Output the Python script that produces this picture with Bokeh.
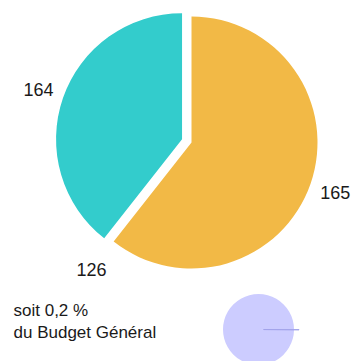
import math
from bokeh.plotting import figure
from bokeh.models import Range1d, ColumnDataSource
from bokeh.core.properties import value
from bokeh.embed import file_html
from bokeh.resources import INLINE

# ---- data ----
# main pie, slices in clockwise order starting at 12 o'clock
main_labels = ["165", "126", "164"]
main_shares = [60.6, 0.0, 39.4]
main_colors = ["#F2B946", "#F2B946", "#33CCCC"]
main_pulled = [False, True, True]

# small pie, starting at 3 o'clock
small_shares = [0.2, 99.8]
small_colors = ["#9EA0E8", "#CCCCFF"]
small_pulled = [True, False]

note_lines = ["soit 0,2 %", "du Budget Général"]

# ---- layout ----
W, H = 351, 361
FONT = "Liberation Sans"


def build(shares, colors, pulled, cx, cy, explode, start_deg, label_r=None):
    total = float(sum(shares))
    cum = start_deg
    wed = dict(x=[], y=[], s=[], e=[], c=[])
    lab = dict(x=[], y=[])
    for sh, col, pl in zip(shares, colors, pulled):
        a0 = cum
        a1 = cum + sh / total * 360.0
        cum = a1
        mid = math.radians((a0 + a1) / 2)
        off = explode if pl else 0.0
        ox = cx + off * math.sin(mid)
        oy = cy + off * math.cos(mid)
        if sh > 0:
            wed["x"].append(ox)
            wed["y"].append(oy)
            wed["s"].append(math.radians(90 - a0))
            wed["e"].append(math.radians(90 - a1))
            wed["c"].append(col)
        if label_r is not None:
            lab["x"].append(ox + label_r * math.sin(mid))
            lab["y"].append(oy + label_r * math.cos(mid))
    return wed, lab


p = figure(width=W, height=H, x_range=Range1d(0, W), y_range=Range1d(0, H),
           output_backend="svg", toolbar_location=None, min_border=0,
           x_axis_location=None, y_axis_location=None)
p.grid.visible = False
p.outline_line_color = None
p.background_fill_color = "white"
p.border_fill_color = "white"

# main pie
R_MAIN = 126
wed, lab = build(main_shares, main_colors, main_pulled,
                 cx=191, cy=219, explode=10, start_deg=0, label_r=152)
p.wedge(x="x", y="y", radius=R_MAIN, start_angle="s", end_angle="e",
        direction="clock", fill_color="c", line_color=None,
        source=ColumnDataSource(wed))
lab["t"] = main_labels
p.text(x="x", y="y", text="t", source=ColumnDataSource(lab),
       text_font=value(FONT), text_font_size="18px", text_color="#1a1a1a",
       text_align="center", text_baseline="middle")

# small pie
R_SMALL = 35.5
swed, _ = build(small_shares, small_colors, small_pulled,
                cx=258, cy=32, explode=5, start_deg=90)
p.wedge(x="x", y="y", radius=R_SMALL, start_angle="s", end_angle="e",
        direction="clock", fill_color="c", line_color=None,
        source=ColumnDataSource(swed))
tiny = {k: v[:1] for k, v in swed.items()}
p.wedge(x="x", y="y", radius=R_SMALL, start_angle="s", end_angle="e",
        direction="clock", fill_color=None, line_color="c", line_width=0.8,
        source=ColumnDataSource(tiny))

# note text
p.text(x=[13] * len(note_lines), y=[51, 29.5], text=note_lines,
       text_font=value(FONT), text_font_size="17px", text_color="#1a1a1a",
       text_align="left", text_baseline="alphabetic")

open("out.html", "w").write(file_html(p, INLINE))
